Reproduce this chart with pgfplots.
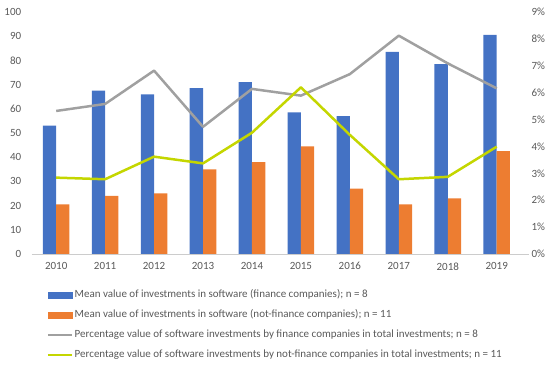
\documentclass[border=0pt]{standalone}
\usepackage{pgfplots}
\pgfplotsset{compat=1.18}
\usepackage{fontspec}
\setmainfont{Carlito}
\definecolor{cblue}{HTML}{4472C4}
\definecolor{corange}{HTML}{ED7D31}
\definecolor{cgrey}{HTML}{A0A0A0}
\definecolor{cgreen}{HTML}{C4D600}
\definecolor{ctext}{HTML}{595959}
\begin{document}
\begin{tikzpicture}
\pgfplotsset{
  common/.style={
    scale only axis, width=497.3pt, height=242pt,
    xmin=-0.5, xmax=9.66,
    tick style={draw=none}, major tick length=0pt,
    ticklabel style={font=\fontsize{11}{13}\selectfont, text=ctext},
    /pgf/number format/assume math mode=true,
  }
}
\begin{axis}[common, name=ax1,
  ymin=0, ymax=100, ytick={0,10,...,100},
  axis x line*=bottom, axis y line*=left,
  y axis line style={draw=none},
  x axis line style={draw=black!20, line width=0.75pt, -},
  xtick={0,...,9},
  xticklabels={2010,2011,2012,2013,2014,2015,2016,2017,2018,2019},
  yticklabel style={xshift=-7pt},
  xticklabel style={yshift=-5pt},
  ybar, bar width=13.3pt,
]
\addplot[fill=cblue, draw=none, bar shift=-6.65pt] coordinates {
(0,53) (1,67.5) (2,66) (3,68.5) (4,71) (5,58.5) (6,57) (7,83.5) (8,78.5) (9,90.5)};
\addplot[fill=corange, draw=none, bar shift=6.65pt] coordinates {
(0,20.5) (1,24) (2,25) (3,35) (4,38) (5,44.5) (6,27) (7,20.5) (8,23) (9,42.5)};
\end{axis}
\begin{axis}[common,
  ymin=0, ymax=9, ytick={0,1,...,9},
  yticklabel={\pgfmathprintnumber{\tick}\%},
  axis y line*=right, axis x line=none,
  y axis line style={draw=none},
  yticklabel style={xshift=-1pt},
  legend cell align=left,
  legend style={at={(0.0298,-0.1446)}, anchor=north west, draw=none, fill=none,
    font=\fontsize{11}{13}\selectfont, text=ctext, inner sep=0pt, row sep=8pt,
    nodes={inner sep=1.5pt, text height=7pt, text depth=2pt}},
]
\addlegendimage{legend image code/.code={\fill[cblue] (0pt,-3pt) rectangle (24pt,3pt);}}
\addlegendentry{Mean value of investments in software (finance companies); n = 8}
\addlegendimage{legend image code/.code={\fill[corange] (0pt,-3pt) rectangle (24pt,3pt);}}
\addlegendentry{Mean value of investments in software (not-finance companies); n = 11}
\addplot[cgrey, line width=2.5pt, line join=round, legend image code/.code={\draw[cgrey, line width=2.5pt] (0pt,0pt) -- (24pt,0pt);}] coordinates {
(0,5.32) (1,5.58) (2,6.82) (3,4.73) (4,6.14) (5,5.89) (6,6.69) (7,8.12) (8,7.09) (9,6.16)};
\addlegendentry{Percentage value of software investments by finance companies in total investments; n = 8}
\addplot[cgreen, line width=2.5pt, line join=round, legend image code/.code={\draw[cgreen, line width=2.5pt] (0pt,0pt) -- (24pt,0pt);}] coordinates {
(0,2.84) (1,2.78) (2,3.62) (3,3.37) (4,4.51) (5,6.2) (6,4.43) (7,2.78) (8,2.87) (9,3.99)};
\addlegendentry{Percentage value of software investments by not-finance companies in total investments; n = 11}
\end{axis}
\pgfresetboundingbox
\path ([shift={(-31.7pt,-112pt)}]ax1.south west) rectangle ([shift={(21pt,12pt)}]ax1.north east);
\end{tikzpicture}
\end{document}
